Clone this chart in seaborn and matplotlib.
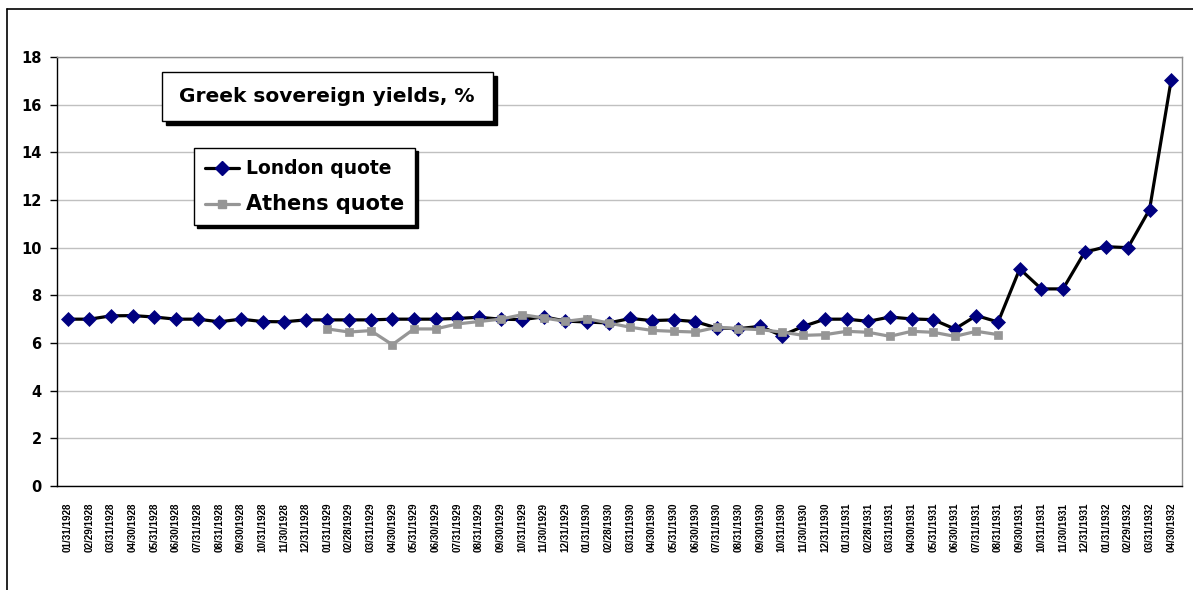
import numpy as np
import pandas as pd
import matplotlib
matplotlib.use('Agg')
import matplotlib.pyplot as plt
import seaborn as sns
from matplotlib.patches import Rectangle
from matplotlib.lines import Line2D

# month-end dates on the category axis
dates = ['01/31/1928', '02/29/1928', '03/31/1928', '04/30/1928', '05/31/1928', '06/30/1928',
         '07/31/1928', '08/31/1928', '09/30/1928', '10/31/1928', '11/30/1928', '12/31/1928',
         '01/31/1929', '02/28/1929', '03/31/1929', '04/30/1929', '05/31/1929', '06/30/1929',
         '07/31/1929', '08/31/1929', '09/30/1929', '10/31/1929', '11/30/1929', '12/31/1929',
         '01/31/1930', '02/28/1930', '03/31/1930', '04/30/1930', '05/31/1930', '06/30/1930',
         '07/31/1930', '08/31/1930', '09/30/1930', '10/31/1930', '11/30/1930', '12/31/1930',
         '01/31/1931', '02/28/1931', '03/31/1931', '04/30/1931', '05/31/1931', '06/30/1931',
         '07/31/1931', '08/31/1931', '09/30/1931', '10/31/1931', '11/30/1931', '12/31/1931',
         '01/31/1932', '02/29/1932', '03/31/1932', '04/30/1932']

london = [7.00, 7.00, 7.14, 7.15, 7.09, 7.00, 7.00, 6.89, 7.00, 6.90, 6.89, 6.97,
          6.97, 6.97, 6.97, 7.00, 7.00, 7.00, 7.03, 7.08, 7.00, 6.98, 7.10, 6.92,
          6.88, 6.84, 7.03, 6.94, 6.97, 6.90, 6.63, 6.60, 6.70, 6.31, 6.70, 7.00,
          7.00, 6.91, 7.09, 7.01, 6.98, 6.59, 7.15, 6.88, 9.11, 8.27, 8.27, 9.81,
          10.04, 10.00, 11.60, 17.04]

# Athens quotes run from 01/31/1929 to 08/31/1931
athens_start = '01/31/1929'
athens = [6.59, 6.46, 6.52, 5.93, 6.59, 6.59, 6.80, 6.90, 7.00, 7.19, 7.05, 6.91,
          7.02, 6.84, 6.66, 6.53, 6.49, 6.46, 6.66, 6.60, 6.56, 6.46, 6.32, 6.35,
          6.49, 6.45, 6.28, 6.49, 6.45, 6.28, 6.49, 6.35]

i0 = dates.index(athens_start)
athens_full = [np.nan] * i0 + athens + [np.nan] * (len(dates) - i0 - len(athens))

df = pd.DataFrame({'date': dates, 'pos': range(len(dates)),
                   'London quote': london, 'Athens quote': athens_full})

navy = '#000080'
grey = '#969696'

W, H = 1193, 590
def fx(px):
    return px / W
def fy(py):
    return 1 - py / H

sns.set_style('white')
plt.rcParams['font.family'] = ['DejaVu Sans']
plt.rcParams['text.color'] = 'black'
plt.rcParams['xtick.color'] = 'black'
plt.rcParams['ytick.color'] = 'black'

fig = plt.figure(figsize=(W / 100, H / 100), dpi=100)
fig.set_facecolor('white')
ax = fig.add_axes([fx(57), fy(486), fx(1182) - fx(57), fy(57) - fy(486)])

sns.lineplot(data=df, x='pos', y='London quote', ax=ax, color='black', lw=2.3,
             marker='D', ms=7.5, markerfacecolor=navy, markeredgecolor=navy,
             markeredgewidth=0.5, errorbar=None, zorder=3)
sns.lineplot(data=df, x='pos', y='Athens quote', ax=ax, color=grey, lw=2.3,
             marker='s', ms=6, markerfacecolor=grey, markeredgecolor=grey,
             markeredgewidth=0.5, errorbar=None, zorder=4)

ax.set_xlim(-0.5, len(dates) - 0.5)
ax.set_ylim(0, 18)
ax.set_yticks(range(0, 19, 2))
ax.set_yticklabels([str(v) for v in range(0, 19, 2)], fontsize=10.5, fontweight='bold')
ax.yaxis.grid(True, color='#c0c0c0', lw=1)
ax.set_axisbelow(True)

ax.set_xticks(range(len(dates)))
ax.set_xticklabels(dates, rotation=90, fontsize=7.1, fontweight='bold', family='Liberation Sans')
ax.set_xticks(np.arange(-0.5, len(dates), 1), minor=True)
ax.tick_params(axis='x', which='major', length=0, pad=12)
ax.tick_params(axis='x', which='minor', length=5, width=1, color='black', direction='out')
ax.tick_params(axis='y', length=5, width=1, color='black', direction='out', pad=6, left=True)
ax.set_xlabel('')
ax.set_ylabel('')

for s in ['left', 'bottom']:
    ax.spines[s].set_color('black')
    ax.spines[s].set_linewidth(1)
for s in ['top', 'right']:
    ax.spines[s].set_color('#909090')
    ax.spines[s].set_linewidth(1)

# title box with a solid shadow
fig.patches.append(Rectangle((fx(166), fy(125)), fx(331), fy(72) - fy(121),
                             transform=fig.transFigure, fc='black', ec='black', zorder=5))
fig.patches.append(Rectangle((fx(162), fy(121)), fx(331), fy(72) - fy(121),
                             transform=fig.transFigure, fc='white', ec='black', lw=1, zorder=6))
fig.text(fx(327), fy(97), 'Greek sovereign yields, %', ha='center', va='center',
         fontsize=14.5, fontweight='bold', zorder=7)

# legend
handles = [Line2D([], [], color='black', lw=2.3, marker='D', ms=7.5, mfc=navy, mec=navy),
           Line2D([], [], color=grey, lw=2.3, marker='s', ms=6, mfc=grey, mec=grey)]
leg = ax.legend(handles, ['London quote', 'Athens quote'], loc='upper left',
                bbox_to_anchor=(fx(194), fy(148)), bbox_transform=fig.transFigure,
                frameon=True, fancybox=False, edgecolor='black', framealpha=1,
                shadow={'color': 'black', 'alpha': 1}, handlelength=1.8,
                handletextpad=0.35, labelspacing=0.85, borderpad=0.6,
                borderaxespad=0, prop={'weight': 'bold', 'size': 13.5})
leg.get_frame().set_linewidth(1)
leg.get_texts()[1].set_fontsize(15)

# outer chart-area border (top and left edges)
fig.add_artist(Line2D([fx(7), 1], [fy(9), fy(9)], transform=fig.transFigure, color='black', lw=1.2))
fig.add_artist(Line2D([fx(7), fx(7)], [fy(9), 0], transform=fig.transFigure, color='black', lw=1.2))

plt.savefig('out.png', dpi=100, facecolor='white')
